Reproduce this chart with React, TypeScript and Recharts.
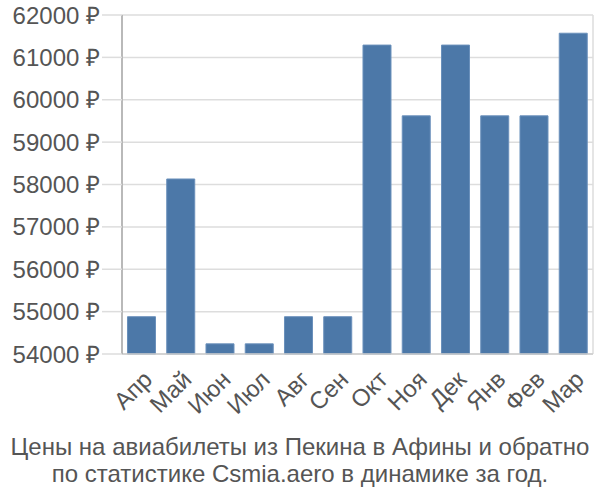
import { BarChart, Bar, XAxis, YAxis, CartesianGrid } from 'recharts';

const months = ['Апр', 'Май', 'Июн', 'Июл', 'Авг', 'Сен', 'Окт', 'Ноя', 'Дек', 'Янв', 'Фев', 'Мар'];
const prices = [54880, 58130, 54240, 54240, 54880, 54880, 61290, 59620, 61290, 59620, 59620, 61570];
const yTicks = [54000, 55000, 56000, 57000, 58000, 59000, 60000, 61000, 62000];
const gridTicks = [0, 1, 2, 3, 4, 5, 6, 7, 8, 9, 10, 11, 12];

const data = months.map((m, i) => ({ month: m, price: prices[i] }));

const font = '"Liberation Sans", Arial, sans-serif';
const textColor = '#555555';

const App = () => {
  return (
    <div style={{ position: 'absolute', left: 0, top: 0, width: 600, height: 500, background: '#fff' }}>
      <BarChart
        width={600}
        height={430}
        data={data}
        margin={{ top: 15, right: 7, left: 0, bottom: 0 }}
        barCategoryGap="14%"
      >
        <CartesianGrid stroke="#dddddd" strokeWidth={1.5} xAxisId="grid" />
        <XAxis
          dataKey="month"
          interval={0}
          tickLine={false}
          axisLine={{ stroke: '#cccccc', strokeWidth: 1.5 }}
          height={76}
          tickMargin={9}
          angle={-45}
          textAnchor="end"
          tick={{ fill: textColor, fontSize: 24, fontFamily: font }}
        />
        <XAxis
          xAxisId="grid"
          type="number"
          domain={[0, 12]}
          ticks={gridTicks}
          tick={false}
          tickSize={21}
          tickLine={{ stroke: '#dddddd', strokeWidth: 1.5 }}
          axisLine={false}
          height={0}
        />
        <YAxis
          domain={[54000, 62000]}
          ticks={yTicks}
          interval={0}
          width={122}
          tickSize={20}
          tickMargin={2}
          tickFormatter={(v: number) => `${v} ₽`}
          tickLine={{ stroke: '#dddddd', strokeWidth: 1.5 }}
          axisLine={{ stroke: '#aaaaaa', strokeWidth: 1.5 }}
          tick={{ fill: textColor, fontSize: 24, fontFamily: font }}
        />
        <Bar dataKey="price" fill="#4c78a8" stroke="#6a90bb" strokeWidth={1} isAnimationActive={false} />
      </BarChart>
      <div
        style={{
          position: 'absolute',
          left: 0,
          top: 433,
          width: 600,
          textAlign: 'center',
          fontFamily: font,
          fontSize: 24,
          lineHeight: '27px',
          color: textColor,
          whiteSpace: 'nowrap',
        }}
      >
        Цены на авиабилеты из Пекина в Афины и обратно
        <br />
        по статистике Csmia.aero в динамике за год.
      </div>
    </div>
  );
};

export default App;
